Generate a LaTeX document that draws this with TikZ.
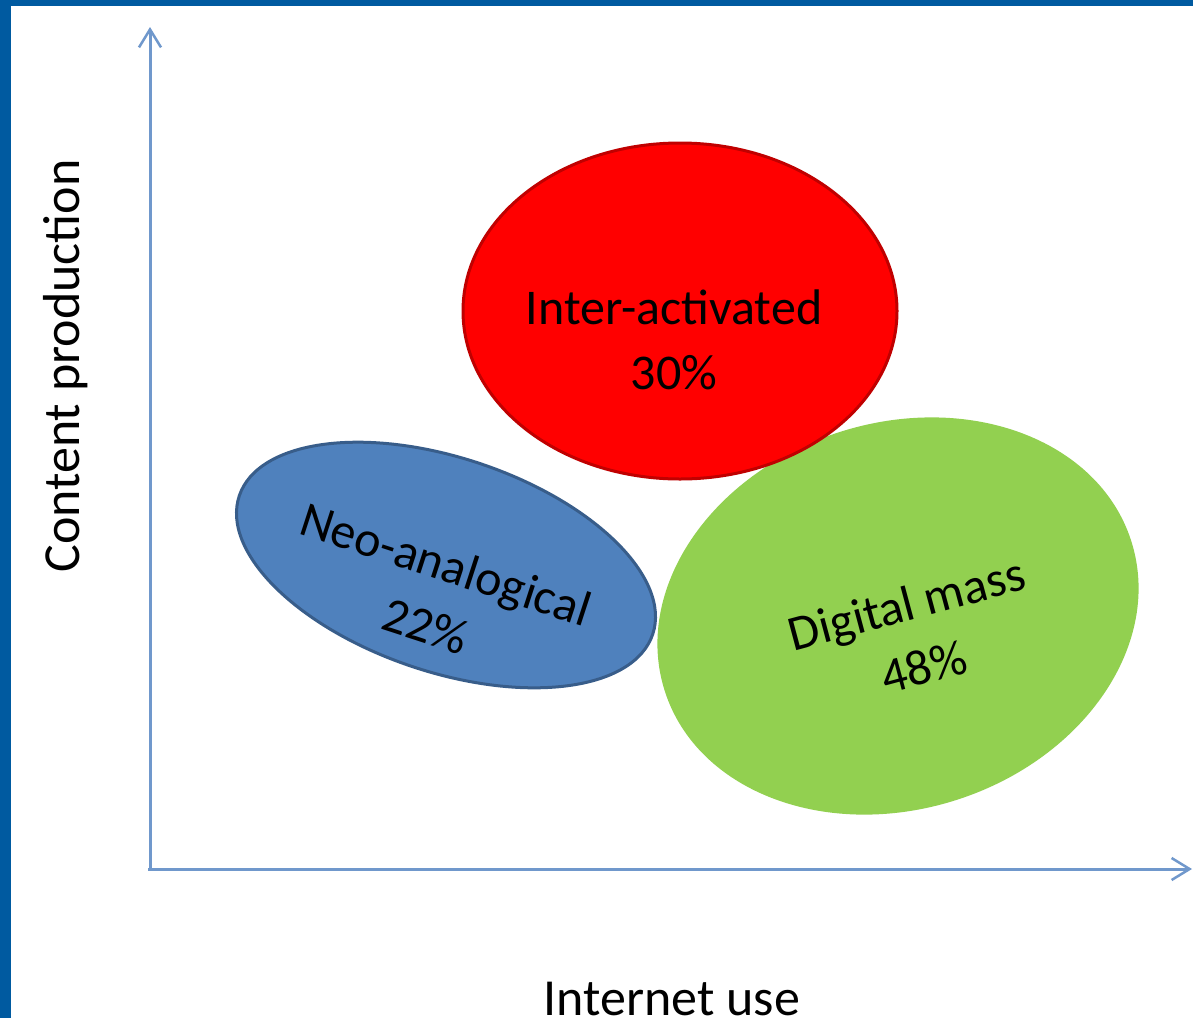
\documentclass[tikz,border=0pt]{standalone}
\usepackage{fontspec}
\setmainfont{Carlito}
\usetikzlibrary{shapes.geometric,arrows.meta}

\definecolor{frameblue}{HTML}{005AA0}
\definecolor{axisblue}{HTML}{7098CC}
\definecolor{interred}{HTML}{FF0000}
\definecolor{interedge}{HTML}{C00000}
\definecolor{neoblue}{HTML}{4F81BD}
\definecolor{neoedge}{HTML}{385D8A}
\definecolor{massgreen}{HTML}{92D050}

\tikzset{
  axis/.style={draw=axisblue, line width=3pt, -{Straight Barb[length=18pt,width=22pt,line width=2.5pt]}},
  group/.style={ellipse, inner sep=0pt, line width=3pt},
  label/.style={align=center, font=\fontsize{50}{65}\selectfont},
  axislabel/.style={font=\fontsize{52}{60}\selectfont}
}

\begin{document}
\begin{tikzpicture}[x=1pt, y=-1pt]
	\useasboundingbox (0,0) rectangle (1193,1018);
	\fill[white] (0,0) rectangle (1193,1018);

	% Frame
	\fill[frameblue] (0,0) rectangle (11,1018);
	\fill[frameblue] (0,0) rectangle (1193,6);

	% Axes
	\coordinate (origin) at (150,869);
	\coordinate (ytop) at (150,27);
	\coordinate (xend) at (1192,869);
	\draw[axis] (origin) -- (ytop);
	\draw[axis] (148,869) -- (xend);

	% Axis labels
	\node[axislabel, anchor=base] (xlabel) at (672,1015) {Internet use};
	\node[axislabel, anchor=base, rotate=90] (ylabel) at (79,366) {Content production};

	% Groups
	\node[group, fill=massgreen, rotate=18, minimum width=490pt, minimum height=386pt] (digital) at (898,616) {};
	\node[group, fill=neoblue, draw=neoedge, rotate=-18.5, minimum width=436pt, minimum height=214pt] (neo) at (446,565) {};
	\node[group, fill=interred, draw=interedge, minimum width=434pt, minimum height=336pt] (inter) at (680,311) {};

	% Group labels
	\node[label] (interlabel) at (674,340) {Inter-activated\\30\%};
	\node[label, rotate=-18] (neolabel) at (436,595) {Neo-analogical\\22\%};
	\node[label, rotate=15] (digitallabel) at (915,635) {Digital mass\\48\%};
\end{tikzpicture}
\end{document}
